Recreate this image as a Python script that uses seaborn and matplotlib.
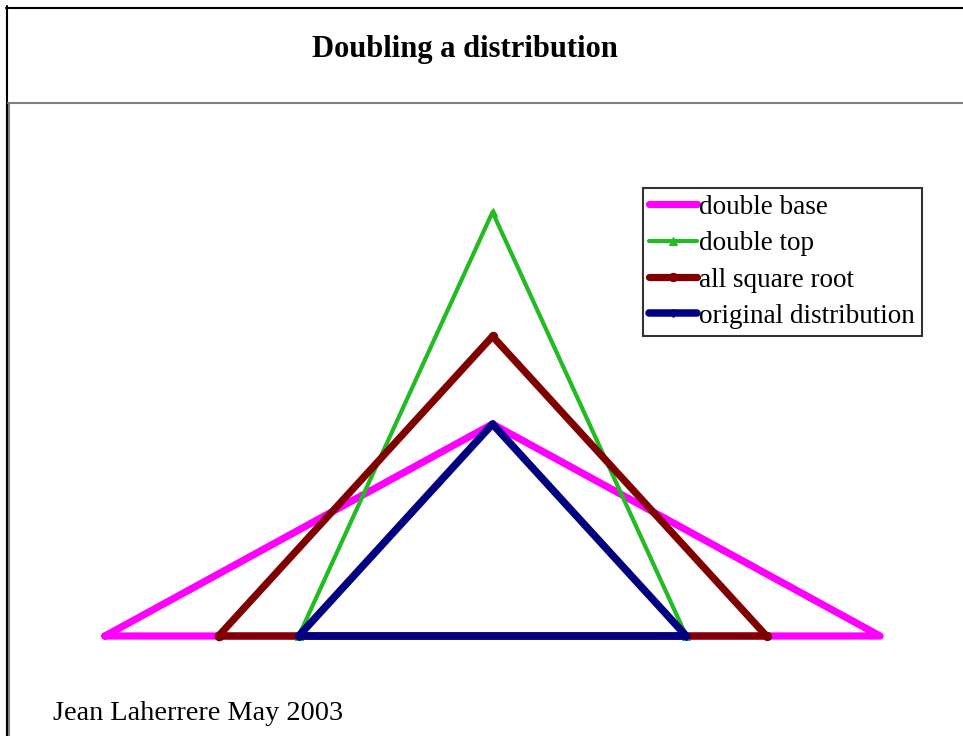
import matplotlib
matplotlib.use("Agg")
import matplotlib.pyplot as plt
from matplotlib.lines import Line2D
import pandas as pd
import seaborn as sns

sns.set_style("white")
plt.rcParams["font.family"] = ["Liberation Serif", "DejaVu Serif"]
plt.rcParams["text.color"] = "black"

# triangles: x along the base, y height (original = base 2, height 1)
series_names = ["double base", "double top", "all square root", "original distribution"]
double_base_x = [-2, 0, 2, -2]
double_base_y = [0, 1, 0, 0]
double_top_x = [-1, 0, 1, -1]
double_top_y = [0, 2, 0, 0]
sqrt_x = [-1.414, 0, 1.414, -1.414]
sqrt_y = [0, 1.414, 0, 0]
orig_x = [-1, 0, 1, -1]
orig_y = [0, 1, 0, 0]

colors = ["#FF00FF", "#22BB22", "#800000", "#000080"]
widths = [5.2, 3.0, 5.2, 5.4]
markers = [None, "^", "o", "D"]
msizes = [0, 6, 6, 4]

xs = [double_base_x, double_top_x, sqrt_x, orig_x]
ys = [double_base_y, double_top_y, sqrt_y, orig_y]

W, H = 963, 736
fig = plt.figure(figsize=(W / 100, H / 100), dpi=100)
ax = fig.add_axes([10 / W, 0, 953 / W, (H - 105) / H])

for name, x, y, c, lw, m, ms in zip(series_names, xs, ys, colors, widths, markers, msizes):
    df = pd.DataFrame({"x": x, "y": y})
    sns.lineplot(data=df, x="x", y="y", ax=ax, sort=False, estimator=None,
                 color=c, linewidth=lw, marker=m, markersize=ms,
                 markeredgecolor=c, label=name,
                 solid_joinstyle="round", solid_capstyle="round")

ax.set_xlim(-2.49, 2.428)
ax.set_ylim(-0.4717, 2.505)
ax.axis("off")

leg = ax.legend(loc="upper right", bbox_to_anchor=(922 / W, 1 - 188 / H),
                bbox_transform=fig.transFigure, fontsize=19.5, frameon=True,
                fancybox=False, handlelength=1.75, handletextpad=0.1,
                labelspacing=0.42, borderpad=0.25, borderaxespad=0, numpoints=1)
leg.get_frame().set_edgecolor("black")
leg.get_frame().set_linewidth(1.5)
for t in leg.get_texts():
    t.set_color("black")

# frame lines
def fx(px):
    return px / W

def fy(py):
    return 1 - py / H

fig.add_artist(Line2D([fx(6.5), fx(6.5)], [fy(6), fy(736)], color="black", lw=1.5))
fig.add_artist(Line2D([fx(6), fx(963)], [fy(7.5), fy(7.5)], color="black", lw=1.5))
fig.add_artist(Line2D([fx(8), fx(963)], [fy(103), fy(103)], color="#808080", lw=1.5))
fig.add_artist(Line2D([fx(8.8), fx(8.8)], [fy(103), fy(736)], color="#808080", lw=1.5))

fig.text(465 / W, fy(49), "Doubling a distribution", ha="center", va="center",
         fontsize=22, fontweight="bold", color="black")
fig.text(53 / W, fy(714), "Jean Laherrere May 2003", ha="left", va="center",
         fontsize=20.3, color="black")

fig.savefig("out.png", dpi=100)
